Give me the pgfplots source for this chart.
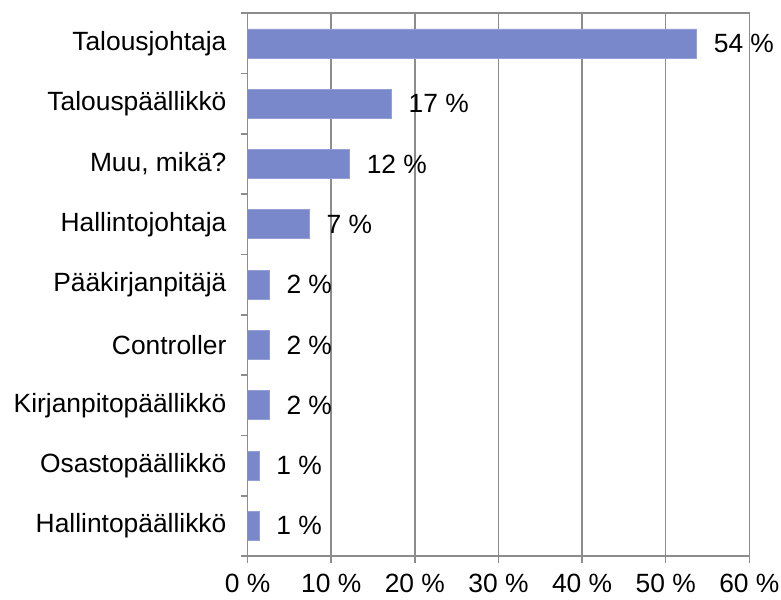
\documentclass[border=0pt]{standalone}
\usepackage{pgfplots}
\pgfplotsset{compat=1.18}
\usepackage{pgfplotstable}
\usepackage{fontspec}
\setmainfont{Liberation Sans}
\definecolor{barblue}{RGB}{121,135,203}
\definecolor{gridgray}{RGB}{140,140,140}
\pgfplotstableread[col sep=comma]{
y,x,lab
8,53.7,54 \%
7,17.2,17 \%
6,12.2,12 \%
5,7.4,7 \%
4,2.6,2 \%
3,2.6,2 \%
2,2.6,2 \%
1,1.4,1 \%
0,1.4,1 \%
}\datatable
\begin{document}
\fontsize{13.2bp}{16bp}\selectfont
\begin{tikzpicture}
\begin{axis}[
  scale only axis,
  width=251bp, height=271.5bp,
  xbar, bar width=14.5bp,
  xmin=0, xmax=60, ymin=-0.5, ymax=8.5,
  xtick={0,10,...,60},
  xticklabels={0 \%,10 \%,20 \%,30 \%,40 \%,50 \%,60 \%},
  ytick={0,...,8},
  yticklabels={Hallintopäällikkö,Osastopäällikkö,Kirjanpitopäällikkö,Controller,Pääkirjanpitäjä,Hallintojohtaja,{Muu, mikä?},Talouspäällikkö,Talousjohtaja},
  minor ytick={-0.5,0.5,...,8.5},
  xtick pos=bottom, ytick pos=left,
  tick align=outside,
  major tick length=3.5bp,
  minor tick length=3.5bp,
  major y tick style={draw=none},
  minor y tick style={draw=gridgray, line width=0.8pt},
  major x tick style={draw=gridgray, line width=0.8pt},
  xmajorgrids,
  major grid style={draw=gridgray, line width=0.8pt},
  axis line style={draw=gridgray, line width=0.8pt},
  tick label style={font=\fontsize{13.2bp}{16bp}\selectfont, text=black},
  yticklabel style={xshift=-2.5bp},
  xticklabel style={yshift=-1bp},
  /pgf/number format/assume math mode=true,
  nodes near coords,
  point meta=explicit symbolic,
  every node near coord/.append style={font=\fontsize{13.2bp}{16bp}\selectfont, text=black, anchor=west, xshift=4bp},
]
\addplot[fill=barblue, draw=barblue!80!white] table[x=x, y=y, meta=lab, col sep=comma] {\datatable};
\end{axis}
\pgfresetboundingbox
\path (current axis.south west) ++(-123.85bp,-21.5bp) coordinate (bl);
\path (current axis.north east) ++(15.85bp,6.65bp) coordinate (tr);
\path[use as bounding box] (bl) rectangle (tr);
\end{tikzpicture}
\end{document}
